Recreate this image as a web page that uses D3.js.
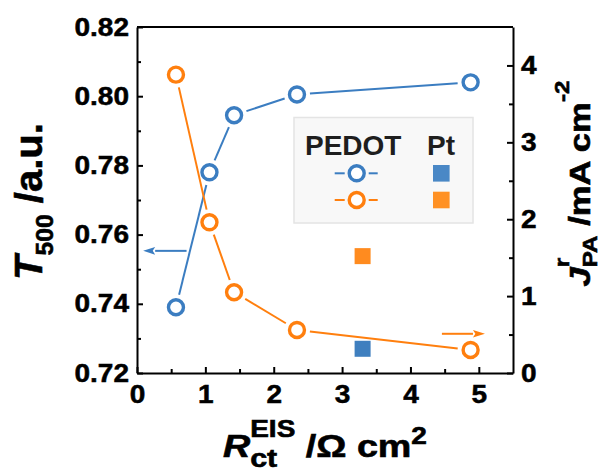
<!DOCTYPE html>
<html>
<head>
<meta charset="utf-8">
<script src="https://cdn.jsdelivr.net/npm/d3@7"></script>
<style>
  body { margin: 0; background: #fff; }
  svg { display: block; }
  text { font-family: "Liberation Sans", Arial, Helvetica, sans-serif; font-weight: bold; }
</style>
</head>
<body>
<svg id="chart" width="602" height="471"></svg>
<script>
// PEDOT films: charge-transfer resistance R_ct^EIS (Ω cm²)
const rctPEDOT  = [0.57, 1.06, 1.42, 2.34, 4.88];
// PEDOT: transmittance at 500 nm (left axis, a.u.)
const t500PEDOT = [0.739, 0.778, 0.7945, 0.8005, 0.804];
// PEDOT: photocurrent J^r_PA (right axis, mA cm^-2)
const jpaPEDOT  = [3.88, 1.96, 1.05, 0.56, 0.30];
// Pt reference electrode
const rctPt  = [3.30];
const t500Pt = [0.727];
const jpaPt  = [1.52];

// Axis ticks
const xTicks     = [0, 1, 2, 3, 4, 5];
const xMinor     = [0.5, 1.5, 2.5, 3.5, 4.5];
const leftTicks  = [0.72, 0.74, 0.76, 0.78, 0.80, 0.82];
const leftMinor  = [0.73, 0.75, 0.77, 0.79, 0.81];
const rightTicks = [0, 1, 2, 3, 4];
const rightMinor = [0.5, 1.5, 2.5, 3.5];

// Legend entries
const legendHeaders = ["PEDOT", "Pt"];

const BLUE = "#3b7dc1", ORANGE = "#ff7f0e";
const BLUE_SQ = "#3f7fbf", ORANGE_SQ = "#ff8b1f";
const BLUE_LEG = "#4a88c6", ORANGE_LEG = "#ff9124";

const svg = d3.select("#chart");
const plot = { left: 137, right: 513, top: 27, bottom: 373 };

const x  = d3.scaleLinear().domain([0, 5.5]).range([plot.left, plot.right]);
const yL = d3.scaleLinear().domain([0.72, 0.82]).range([plot.bottom, plot.top]);
const yR = d3.scaleLinear().domain([0, 4.5]).range([plot.bottom, plot.top]);

const TICK_FONT = 25, TICK_STRETCH = 1.12;

function styleAxis(g) {
  g.select(".domain").attr("stroke", "#000").attr("stroke-width", 2);
  g.selectAll(".tick line").attr("stroke", "#000").attr("stroke-width", 2);
  g.selectAll(".tick text")
    .attr("fill", "#000")
    .attr("stroke", "#000").attr("stroke-width", 0.5)
    .style("font-size", TICK_FONT + "px")
    .each(function () {
      const t = d3.select(this);
      const tx = +t.attr("x") || 0, ty = +t.attr("y") || 0;
      t.attr("x", 0).attr("y", 0)
       .attr("transform", `translate(${tx},${ty}) scale(${TICK_STRETCH},1)`);
    });
}
function minorAxis(g) {
  g.select(".domain").remove();
  g.selectAll(".tick line").attr("stroke", "#000").attr("stroke-width", 2);
}

// Frame: top edge
svg.append("line")
  .attr("x1", x(0)).attr("x2", x(5.5))
  .attr("y1", yL(0.82)).attr("y2", yL(0.82))
  .attr("stroke", "#000").attr("stroke-width", 2);

// Bottom axis
svg.append("g").attr("transform", `translate(0,${plot.bottom})`)
  .call(d3.axisBottom(x).tickValues(xMinor).tickSizeInner(-4).tickSizeOuter(0).tickFormat(""))
  .call(minorAxis);
svg.append("g").attr("transform", `translate(0,${plot.bottom})`)
  .call(d3.axisBottom(x).tickValues(xTicks).tickSizeInner(-6).tickSizeOuter(0)
        .tickPadding(12).tickFormat(d3.format("d")))
  .call(styleAxis);

// Left axis
svg.append("g").attr("transform", `translate(${plot.left},0)`)
  .call(d3.axisLeft(yL).tickValues(leftMinor).tickSizeInner(-4).tickSizeOuter(0).tickFormat(""))
  .call(minorAxis);
svg.append("g").attr("transform", `translate(${plot.left},0)`)
  .call(d3.axisLeft(yL).tickValues(leftTicks).tickSizeInner(-6).tickSizeOuter(0)
        .tickPadding(8).tickFormat(d3.format(".2f")))
  .call(styleAxis);

// Right axis
svg.append("g").attr("transform", `translate(${plot.right},0)`)
  .call(d3.axisRight(yR).tickValues(rightMinor).tickSizeInner(-4).tickSizeOuter(0).tickFormat(""))
  .call(minorAxis);
svg.append("g").attr("transform", `translate(${plot.right},0)`)
  .call(d3.axisRight(yR).tickValues(rightTicks).tickSizeInner(-6).tickSizeOuter(0)
        .tickPadding(8).tickFormat(d3.format("d")))
  .call(styleAxis);

// Connected open-circle series, with the line stopping short of each symbol
const GAP = 13, R_SYM = 7.5;
function series(xs, ys, yScale, color) {
  const pts = xs.map((v, i) => [x(v), yScale(ys[i])]);
  const g = svg.append("g");
  const segs = d3.pairs(pts).map(([a, b]) => {
    const dx = b[0] - a[0], dy = b[1] - a[1], L = Math.hypot(dx, dy);
    const ux = dx / L, uy = dy / L;
    return [a[0] + ux * GAP, a[1] + uy * GAP, b[0] - ux * GAP, b[1] - uy * GAP];
  });
  g.selectAll("line").data(segs).join("line")
    .attr("x1", d => d[0]).attr("y1", d => d[1])
    .attr("x2", d => d[2]).attr("y2", d => d[3])
    .attr("stroke", color).attr("stroke-width", 2);
  g.selectAll("circle").data(pts).join("circle")
    .attr("cx", d => d[0]).attr("cy", d => d[1]).attr("r", R_SYM)
    .attr("fill", "#fff").attr("stroke", color).attr("stroke-width", 3.4);
}
series(rctPEDOT, t500PEDOT, yL, BLUE);
series(rctPEDOT, jpaPEDOT, yR, ORANGE);

// Pt reference points (filled squares)
const SQ = 16;
svg.selectAll("rect.ptT").data(rctPt).join("rect").attr("class", "ptT")
  .attr("x", (d) => x(d) - SQ / 2).attr("y", (d, i) => yL(t500Pt[i]) - SQ / 2)
  .attr("width", SQ).attr("height", SQ).attr("fill", BLUE_SQ);
svg.selectAll("rect.ptJ").data(rctPt).join("rect").attr("class", "ptJ")
  .attr("x", (d) => x(d) - SQ / 2).attr("y", (d, i) => yR(jpaPt[i]) - SQ / 2)
  .attr("width", SQ).attr("height", SQ).attr("fill", ORANGE_SQ);

// Arrows pointing to the axis each series belongs to
function arrow(x1, y1, x2, y2, color) {
  const head = 12, half = 3.8;
  const dir = Math.sign(x2 - x1);
  svg.append("line").attr("x1", x1).attr("y1", y1).attr("x2", x2 - dir * head).attr("y2", y2)
    .attr("stroke", color).attr("stroke-width", 2);
  svg.append("path")
    .attr("d", `M${x2},${y2} L${x2 - dir * head},${y2 - half} L${x2 - dir * head * 0.8},${y2} L${x2 - dir * head},${y2 + half} Z`)
    .attr("fill", color);
}
arrow(x(0.725), yL(0.7553), x(0.09), yL(0.7553), BLUE);
arrow(x(4.46), yR(0.51), x(5.09), yR(0.51), ORANGE);

// Legend
const leg = svg.append("g");
leg.append("rect").attr("x", 294).attr("y", 117.5).attr("width", 179).attr("height", 105.5)
  .attr("fill", "#f8f8f8").attr("stroke", "#e4e4e4").attr("stroke-width", 1.5);
leg.append("text").attr("x", 305).attr("y", 155).style("font-size", "28px")
  .attr("fill", "#1e1e1e").text(legendHeaders[0]);
leg.append("text").attr("x", 427).attr("y", 155).style("font-size", "28px")
  .attr("fill", "#1e1e1e").text(legendHeaders[1]);
[[173.3, BLUE_LEG, BLUE], [200, ORANGE_LEG, ORANGE]].forEach(([ly, sqc, c]) => {
  const cx = 356.7;
  leg.append("line").attr("x1", cx - 22).attr("x2", cx - 12).attr("y1", ly).attr("y2", ly)
    .attr("stroke", c).attr("stroke-width", 2);
  leg.append("line").attr("x1", cx + 12).attr("x2", cx + 21).attr("y1", ly).attr("y2", ly)
    .attr("stroke", c).attr("stroke-width", 2);
  leg.append("circle").attr("cx", cx).attr("cy", ly).attr("r", R_SYM)
    .attr("fill", "#fff").attr("stroke", c).attr("stroke-width", 3.4);
  leg.append("rect").attr("x", 433).attr("y", ly - 8.3).attr("width", 16.6).attr("height", 16.6)
    .attr("fill", sqc);
});

// Axis titles with sub/superscripts; segments flagged "stack" share the x of the previous one
function mathLabel(segs, cx, cy, baseline, rotate, targetLen) {
  const g = svg.append("g");
  const inner = g.append("g");
  const text = inner.append("text").attr("fill", "#000")
    .attr("stroke", "#000").attr("stroke-width", 0.6);
  let prevShift = 0, prevLen = 0, pending = 0;
  segs.forEach((s) => {
    const ts = text.append("tspan")
      .style("font-size", s.size + "px")
      .style("font-style", s.italic ? "italic" : "normal")
      .attr("dy", (s.shift || 0) - prevShift)
      .text(s.t);
    const len = ts.node().getComputedTextLength();
    if (s.stack) {
      ts.attr("dx", -prevLen);
      pending = Math.max(0, prevLen - len);
    } else if (pending) {
      ts.attr("dx", pending);
      pending = 0;
    }
    prevShift = s.shift || 0;
    prevLen = len;
  });
  const bb = text.node().getBBox();
  const sx = targetLen / bb.width;
  inner.attr("transform", `scale(${sx},1) translate(${-(bb.x + bb.width / 2)},0)`);
  g.attr("transform", rotate
    ? `translate(${baseline},${cy}) rotate(-90)`
    : `translate(${cx},${baseline})`);
}

// x title: R_ct^EIS /Ω cm²
mathLabel([
  { t: "R", size: 31, italic: true },
  { t: "EIS", size: 23, shift: -20 },
  { t: "ct", size: 25, shift: 10, stack: true },
  { t: " /Ω cm", size: 31, shift: 0 },
  { t: "2", size: 23, shift: -13 }
], 325, 0, 457, false, 204);

// left title: T_500 /a.u.
mathLabel([
  { t: "T", size: 39, italic: true },
  { t: "500", size: 24, shift: 11 },
  { t: " /a.u.", size: 39, shift: 0 }
], 0, 201.5, 42, true, 157);

// right title: J^r_PA /mA cm^-2
mathLabel([
  { t: "J", size: 30, italic: true },
  { t: "r", size: 21, shift: -21 },
  { t: "PA", size: 21, shift: 7, stack: true },
  { t: " /mA cm", size: 30, shift: 0 },
  { t: "-2", size: 21, shift: -21 }
], 0, 183.5, 590, true, 206);
</script>
</body>
</html>
